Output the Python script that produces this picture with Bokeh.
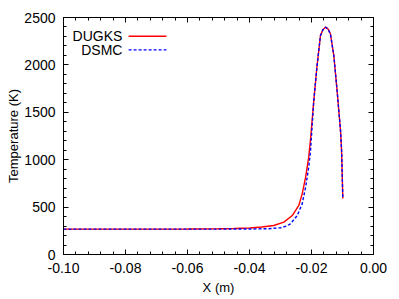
from bokeh.plotting import figure
from bokeh.models import LinearAxis, FixedTicker, PrintfTickFormatter, Range1d
from bokeh.embed import file_html
from bokeh.resources import INLINE
from bokeh.core.properties import value

# ---- data ----
dugks_x = [-0.100, -0.080, -0.060, -0.050, -0.045, -0.040, -0.036, -0.0322, -0.0289,
           -0.0262, -0.0241, -0.0230, -0.0219, -0.0209, -0.0203, -0.0193, -0.0182,
           -0.0171, -0.0163, -0.0155, -0.0147, -0.0139, -0.0128, -0.0117, -0.0106,
           -0.0103, -0.0101, -0.0099]
dugks_T = [268, 268, 269, 271, 274, 280, 290, 306, 341,
           411, 517, 640, 816, 1027, 1220, 1607, 1994,
           2310, 2372, 2398, 2380, 2328, 2099, 1712, 1290,
           1097, 850, 590]

dsmc_x = [-0.100, -0.080, -0.060, -0.050, -0.040, -0.034, -0.030, -0.028, -0.0268,
          -0.0246, -0.0230, -0.0219, -0.0209, -0.0203, -0.0193, -0.0182,
          -0.0171, -0.0163, -0.0155, -0.0147, -0.0139, -0.0128, -0.0117, -0.0106,
          -0.0103, -0.0101, -0.0099]
dsmc_T = [268, 268, 268, 268, 269, 272, 282, 300, 324,
          411, 535, 710, 921, 1097, 1607, 1994,
          2310, 2372, 2398, 2380, 2328, 2099, 1712, 1290,
          1097, 850, 590]

x_ticks = [-0.10, -0.08, -0.06, -0.04, -0.02, 0.00]
y_ticks = [0, 500, 1000, 1500, 2000, 2500]
series_names = ["DUGKS", "DSMC"]

# ---- styling ----
FONT = "Liberation Sans"
FS = "14px"
LABEL_FS = "13px"
RED = "#ff0000"
BLUE = "#0000ff"

p = figure(width=399, height=299, output_backend="svg", toolbar_location=None,
           x_range=Range1d(-0.10, 0.0), y_range=Range1d(0, 2500),
           x_axis_label="X (m)", y_axis_label="Temperature (K)",
           min_border_left=63, min_border_right=26, min_border_top=17,
           min_border_bottom=45)
p.grid.visible = False
p.outline_line_color = "#000000"
p.background_fill_color = "#ffffff"
p.border_fill_color = "#ffffff"

x_minor = [round(-0.10 + 0.004 * i, 4) for i in range(26)]
y_minor = [100 * i for i in range(26)]


def style_axis(ax, ticks, minor, show_labels):
    ax.ticker = FixedTicker(ticks=ticks, minor_ticks=minor)
    ax.major_tick_in = 5
    ax.major_tick_out = 0
    ax.minor_tick_in = 3
    ax.minor_tick_out = 0
    ax.axis_line_color = "#000000"
    ax.major_tick_line_color = "#000000"
    ax.minor_tick_line_color = "#000000"
    ax.major_label_text_font = FONT
    ax.axis_label_text_font = FONT
    ax.axis_label_text_font_size = LABEL_FS
    ax.axis_label_text_font_style = "normal"
    ax.axis_label_text_color = "#000000"
    if show_labels:
        ax.major_label_text_font_size = FS
        ax.major_label_text_color = "#000000"
    else:
        ax.major_label_text_font_size = "0px"
        ax.major_label_text_color = None
        ax.major_label_standoff = 0


style_axis(p.xaxis[0], x_ticks, x_minor, True)
style_axis(p.yaxis[0], y_ticks, y_minor, True)
p.xaxis[0].formatter = PrintfTickFormatter(format="%.2f")
p.yaxis[0].formatter = PrintfTickFormatter(format="%d")
p.xaxis[0].major_label_standoff = 8
p.yaxis[0].major_label_standoff = 8
p.xaxis[0].axis_label_standoff = 4
p.yaxis[0].axis_label_standoff = 0

top_ax = LinearAxis()
right_ax = LinearAxis()
style_axis(top_ax, x_ticks, x_minor, False)
style_axis(right_ax, y_ticks, y_minor, False)
p.add_layout(top_ax, "above")
p.add_layout(right_ax, "right")

p.line(dugks_x, dugks_T, line_color=RED, line_width=1.4)
p.line(dsmc_x, dsmc_T, line_color=BLUE, line_width=1.4, line_dash="3 2")

# ---- legend (text to the left of the sample, gnuplot style) ----
leg_text_x = -0.0810
leg_x0, leg_x1 = -0.0790, -0.0668
leg_y = [2303, 2159]
p.text(x=[leg_text_x, leg_text_x], y=leg_y, text=series_names,
       text_align="right", text_baseline="middle",
       text_font=value(FONT), text_font_size=FS, text_color="#000000")
p.segment(x0=[leg_x0], y0=[leg_y[0]], x1=[leg_x1], y1=[leg_y[0]],
          line_color=RED, line_width=1.4)
p.segment(x0=[leg_x0], y0=[leg_y[1]], x1=[leg_x1], y1=[leg_y[1]],
          line_color=BLUE, line_width=1.4, line_dash="3 2")

open("out.html", "w").write(file_html(p, INLINE))
